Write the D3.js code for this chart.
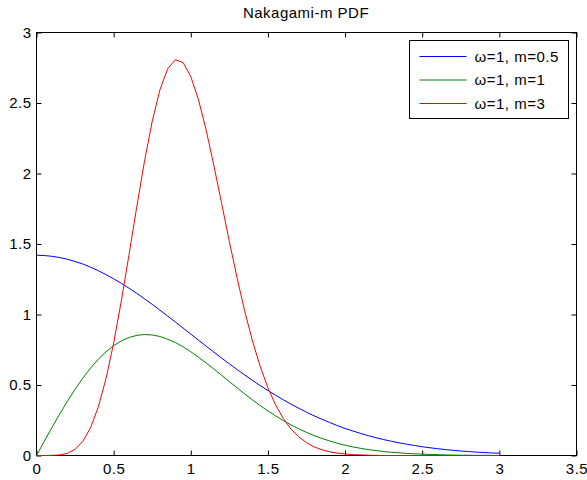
<!DOCTYPE html>
<html>
<head>
<meta charset="utf-8">
<script src="https://cdn.jsdelivr.net/npm/d3@7"></script>
<style>
  body { margin: 0; background: #fff; }
  text { font-family: "Liberation Sans", Arial, sans-serif; font-size: 15px; letter-spacing: 0.5px; fill: #000; }
</style>
</head>
<body>
<div id="chart"></div>
<script>
// x samples (step 0.05 from 0 to 3)
const xs = [0, 0.05, 0.1, 0.15, 0.2, 0.25, 0.3, 0.35, 0.4, 0.45, 0.5, 0.55, 0.6, 0.65, 0.7, 0.75, 0.8, 0.85, 0.9, 0.95,
  1, 1.05, 1.1, 1.15, 1.2, 1.25, 1.3, 1.35, 1.4, 1.45, 1.5, 1.55, 1.6, 1.65, 1.7, 1.75, 1.8, 1.85, 1.9, 1.95,
  2, 2.05, 2.1, 2.15, 2.2, 2.25, 2.3, 2.35, 2.4, 2.45, 2.5, 2.55, 2.6, 2.65, 2.7, 2.75, 2.8, 2.85, 2.9, 2.95, 3];

// m = 0.5
const pdfM05 = [1.420, 1.418, 1.413, 1.404, 1.392, 1.376, 1.358, 1.336, 1.311, 1.283, 1.253, 1.221, 1.186, 1.150, 1.111, 1.072, 1.031, 0.989, 0.947, 0.904,
  0.861, 0.818, 0.775, 0.733, 0.691, 0.650, 0.610, 0.571, 0.533, 0.496, 0.461, 0.427, 0.395, 0.364, 0.335, 0.307, 0.281, 0.257, 0.234, 0.212,
  0.192, 0.174, 0.157, 0.141, 0.126, 0.113, 0.101, 0.090, 0.080, 0.071, 0.062, 0.055, 0.048, 0.042, 0.037, 0.032, 0.028, 0.024, 0.021, 0.018, 0.016];

// m = 1
const pdfM1 = [0, 0.100, 0.198, 0.293, 0.384, 0.470, 0.548, 0.619, 0.682, 0.735, 0.779, 0.813, 0.837, 0.852, 0.858, 0.855, 0.844, 0.825, 0.801, 0.771,
  0.736, 0.697, 0.656, 0.613, 0.569, 0.524, 0.480, 0.436, 0.394, 0.354, 0.316, 0.281, 0.247, 0.217, 0.189, 0.164, 0.141, 0.121, 0.103, 0.087,
  0.073, 0.061, 0.051, 0.042, 0.035, 0.028, 0.023, 0.019, 0.015, 0.012, 0.010, 0.007, 0.006, 0.004, 0.003, 0.002, 0.002, 0.001, 0.001, 0.001, 0];

// m = 3
const pdfM3 = [0, 0, 0.001, 0.004, 0.015, 0.044, 0.100, 0.196, 0.342, 0.543, 0.797, 1.097, 1.426, 1.764, 2.087, 2.370, 2.594, 2.743, 2.807, 2.787,
  2.688, 2.523, 2.306, 2.055, 1.787, 1.518, 1.260, 1.022, 0.812, 0.631, 0.480, 0.358, 0.262, 0.187, 0.132, 0.091, 0.061, 0.041, 0.026, 0.017,
  0.011, 0.006, 0.004, 0.002, 0.001, 0, 0, 0, 0, 0, 0, 0, 0, 0, 0, 0, 0, 0, 0, 0, 0];

const xTicks = [0, 0.5, 1, 1.5, 2, 2.5, 3, 3.5];
const yTicks = [0, 0.5, 1, 1.5, 2, 2.5, 3];
const seriesNames = ["ω=1, m=0.5", "ω=1, m=1", "ω=1, m=3"];
const seriesColors = ["#0000ff", "#008000", "#ff0000"];

const W = 587, H = 480;
const margin = { top: 32, right: 11, bottom: 25, left: 36 };
const width = W - margin.left - margin.right;
const height = H - margin.top - margin.bottom;

const svg = d3.select("#chart").append("svg")
  .attr("width", W).attr("height", H);

const g = svg.append("g")
  .attr("transform", `translate(${margin.left + 0.5},${margin.top + 0.5})`);

const x = d3.scaleLinear().domain([0, 3.5]).range([0, width]);
const y = d3.scaleLinear().domain([0, 3]).range([height, 0]);

// axes (ticks pointing inward, box)
const tl = 5;
g.append("g").attr("transform", `translate(0,${height})`)
  .call(d3.axisBottom(x).tickValues(xTicks).tickSize(-tl).tickPadding(8).tickFormat(d3.format("")))
  .call(a => a.select(".domain").remove());
g.append("g")
  .call(d3.axisTop(x).tickValues(xTicks).tickSize(-tl).tickFormat(""))
  .call(a => a.select(".domain").remove());
g.append("g")
  .call(d3.axisLeft(y).tickValues(yTicks).tickSize(-tl).tickPadding(5).tickFormat(d3.format("")))
  .call(a => a.select(".domain").remove());
g.append("g").attr("transform", `translate(${width},0)`)
  .call(d3.axisRight(y).tickValues(yTicks).tickSize(-tl).tickFormat(""))
  .call(a => a.select(".domain").remove());

g.selectAll(".tick line").attr("stroke", "#000");
g.selectAll(".tick text").attr("fill", "#000")
  .style("font-size", "15px")
  .style("font-family", "'Liberation Sans', Arial, sans-serif");

g.append("rect")
  .attr("x", 0).attr("y", 0)
  .attr("width", width).attr("height", height)
  .attr("fill", "none").attr("stroke", "#000");

// curves, drawn over the axes like MATLAB
const series = [pdfM05, pdfM1, pdfM3];
const line = d3.line().x(d => x(d[0])).y(d => y(d[1]));
series.forEach((vals, i) => {
  g.append("path")
    .datum(xs.map((v, j) => [v, vals[j]]))
    .attr("fill", "none")
    .attr("stroke", seriesColors[i])
    .attr("stroke-width", 1)
    .attr("d", line);
});

// title
svg.append("text")
  .attr("x", margin.left + width / 2).attr("y", 18)
  .attr("text-anchor", "middle")
  .text("Nakagami-m PDF");

// legend
const lg = svg.append("g").attr("transform", "translate(409.5,40.5)");
lg.append("rect").attr("width", 159).attr("height", 78)
  .attr("fill", "#fff").attr("stroke", "#000");
seriesNames.forEach((name, i) => {
  const cy = 16 + i * 23.5;
  lg.append("line").attr("x1", 10).attr("x2", 57).attr("y1", cy).attr("y2", cy)
    .attr("stroke", seriesColors[i]);
  lg.append("text").attr("x", 65).attr("y", cy + 5).text(name);
});
</script>
</body>
</html>
